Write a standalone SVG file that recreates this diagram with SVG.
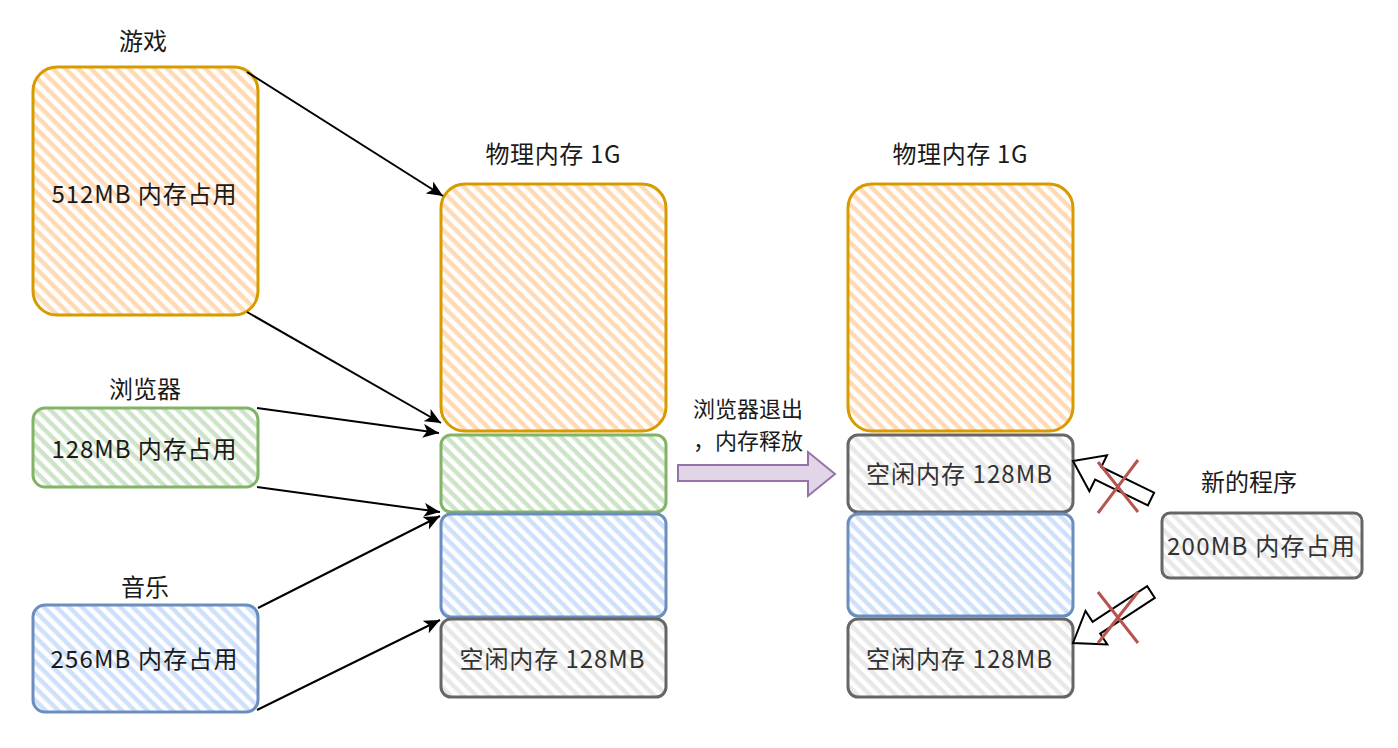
<svg xmlns="http://www.w3.org/2000/svg" width="1398" height="748" viewBox="0 0 1398 748">
<defs>
<pattern id="hO" patternUnits="userSpaceOnUse" width="9" height="9" patternTransform="rotate(45)"><rect width="9" height="9" fill="#ffffff"/><rect width="9" height="4.5" fill="#ffdab5"/></pattern>
<pattern id="hG" patternUnits="userSpaceOnUse" width="9" height="9" patternTransform="rotate(45)"><rect width="9" height="9" fill="#ffffff"/><rect width="9" height="4.5" fill="#cde4c9"/></pattern>
<pattern id="hB" patternUnits="userSpaceOnUse" width="9" height="9" patternTransform="rotate(45)"><rect width="9" height="9" fill="#ffffff"/><rect width="9" height="4.5" fill="#cfe0fa"/></pattern>
<pattern id="hW" patternUnits="userSpaceOnUse" width="9" height="9" patternTransform="rotate(45)"><rect width="9" height="9" fill="#ffffff"/><rect width="9" height="4.5" fill="#e8e8e8"/></pattern>
<marker id="ah" markerUnits="userSpaceOnUse" markerWidth="18" markerHeight="14" refX="16" refY="7" orient="auto"><path d="M0,0 L16,7 L0,14 L4,7 Z" fill="#000"/></marker>
</defs>
<style>
text{font-family:"Noto Sans CJK SC","Noto Sans",sans-serif;fill:#1a1a1a;text-anchor:middle;font-size:24px}
.o{fill:url(#hO);stroke:#d79b00;stroke-width:3}
.g{fill:url(#hG);stroke:#82b366;stroke-width:3}
.b{fill:url(#hB);stroke:#6c8ebf;stroke-width:3}
.w{fill:url(#hW);stroke:#666666;stroke-width:3}
.free{fill:#333}
.s{font-size:22px}
.c{stroke:#000;stroke-width:2;fill:none;marker-end:url(#ah)}
.x{stroke:#b85450;stroke-width:3;fill:none}
.ba{fill:#fff;stroke:#000;stroke-width:2;stroke-linejoin:miter}
</style>
<rect width="1398" height="748" fill="#ffffff"/>

<g id="game">
<text x="143" y="50">游戏</text>
<rect class="o" x="33" y="67" width="225" height="248" rx="24"/>
<text x="144" y="203" textLength="185">512MB 内存占用</text>
</g>
<g id="browser">
<text x="145" y="398">浏览器</text>
<rect class="g" x="33" y="408" width="225" height="79" rx="12"/>
<text x="144" y="458" textLength="185">128MB 内存占用</text>
</g>
<g id="music">
<text x="145" y="596">音乐</text>
<rect class="b" x="33" y="605" width="225" height="107" rx="12"/>
<text x="144" y="668" textLength="187">256MB 内存占用</text>
</g>

<g id="mem1">
<text x="553" y="163" textLength="135">物理内存 1G</text>
<g id="mem1-game"><rect class="o" x="441" y="184" width="225" height="247" rx="24"/></g>
<g id="mem1-browser"><rect class="g" x="441" y="435" width="225" height="77" rx="10"/></g>
<g id="mem1-music"><rect class="b" x="441" y="514" width="225" height="103" rx="10"/></g>
<g id="mem1-free"><rect class="w" x="441" y="619" width="225" height="78" rx="10"/><text class="free" x="552" y="668" textLength="185">空闲内存 128MB</text></g>
</g>

<g id="release">
<text class="s" x="748" y="417">浏览器退出</text>
<text class="s" x="748" y="449">，内存释放</text>
<path d="M678,465 L808,465 L808,452 L835,474 L808,496 L808,481 L678,481 Z" fill="#e1d5e7" stroke="#9673a6" stroke-width="2"/>
</g>

<g id="mem2">
<text x="960" y="163" textLength="135">物理内存 1G</text>
<g id="mem2-game"><rect class="o" x="848" y="184" width="225" height="247" rx="24"/></g>
<g id="mem2-free1"><rect class="w" x="848" y="435" width="225" height="77" rx="10"/><text class="free" x="959" y="483" textLength="186">空闲内存 128MB</text></g>
<g id="mem2-music"><rect class="b" x="848" y="514" width="225" height="102" rx="10"/></g>
<g id="mem2-free2"><rect class="w" x="848" y="619" width="225" height="78" rx="10"/><text class="free" x="959" y="668" textLength="186">空闲内存 128MB</text></g>
</g>

<g id="newprog">
<text x="1249" y="491">新的程序</text>
<rect class="w" x="1162" y="513" width="200" height="65" rx="8"/>
<text class="free" x="1261" y="555" textLength="188">200MB 内存占用</text>
</g>

<g id="connectors">
<line class="c" x1="247" y1="72" x2="443" y2="196"/>
<line class="c" x1="247" y1="312" x2="441" y2="423"/>
<line class="c" x1="257" y1="408" x2="439" y2="433"/>
<line class="c" x1="257" y1="487" x2="440" y2="512"/>
<line class="c" x1="258" y1="608" x2="440" y2="516"/>
<line class="c" x1="257" y1="710" x2="440" y2="620"/>
<polygon class="ba" points="1073,461 1107,455.3 1101.3,467 1154.1,492.7 1147.9,505.3 1095.1,479.6 1089.4,491.3"/>
<polygon class="ba" points="1073,643 1085.5,611 1092.6,621.8 1147.2,586.1 1154.8,597.9 1100.2,633.6 1107.3,644.4"/>
<path class="x" d="M1098,462 L1138,512 M1138,460 L1098,513"/>
<path class="x" d="M1098,592 L1138,643 M1138,592 L1098,643"/>
</g>
</svg>
